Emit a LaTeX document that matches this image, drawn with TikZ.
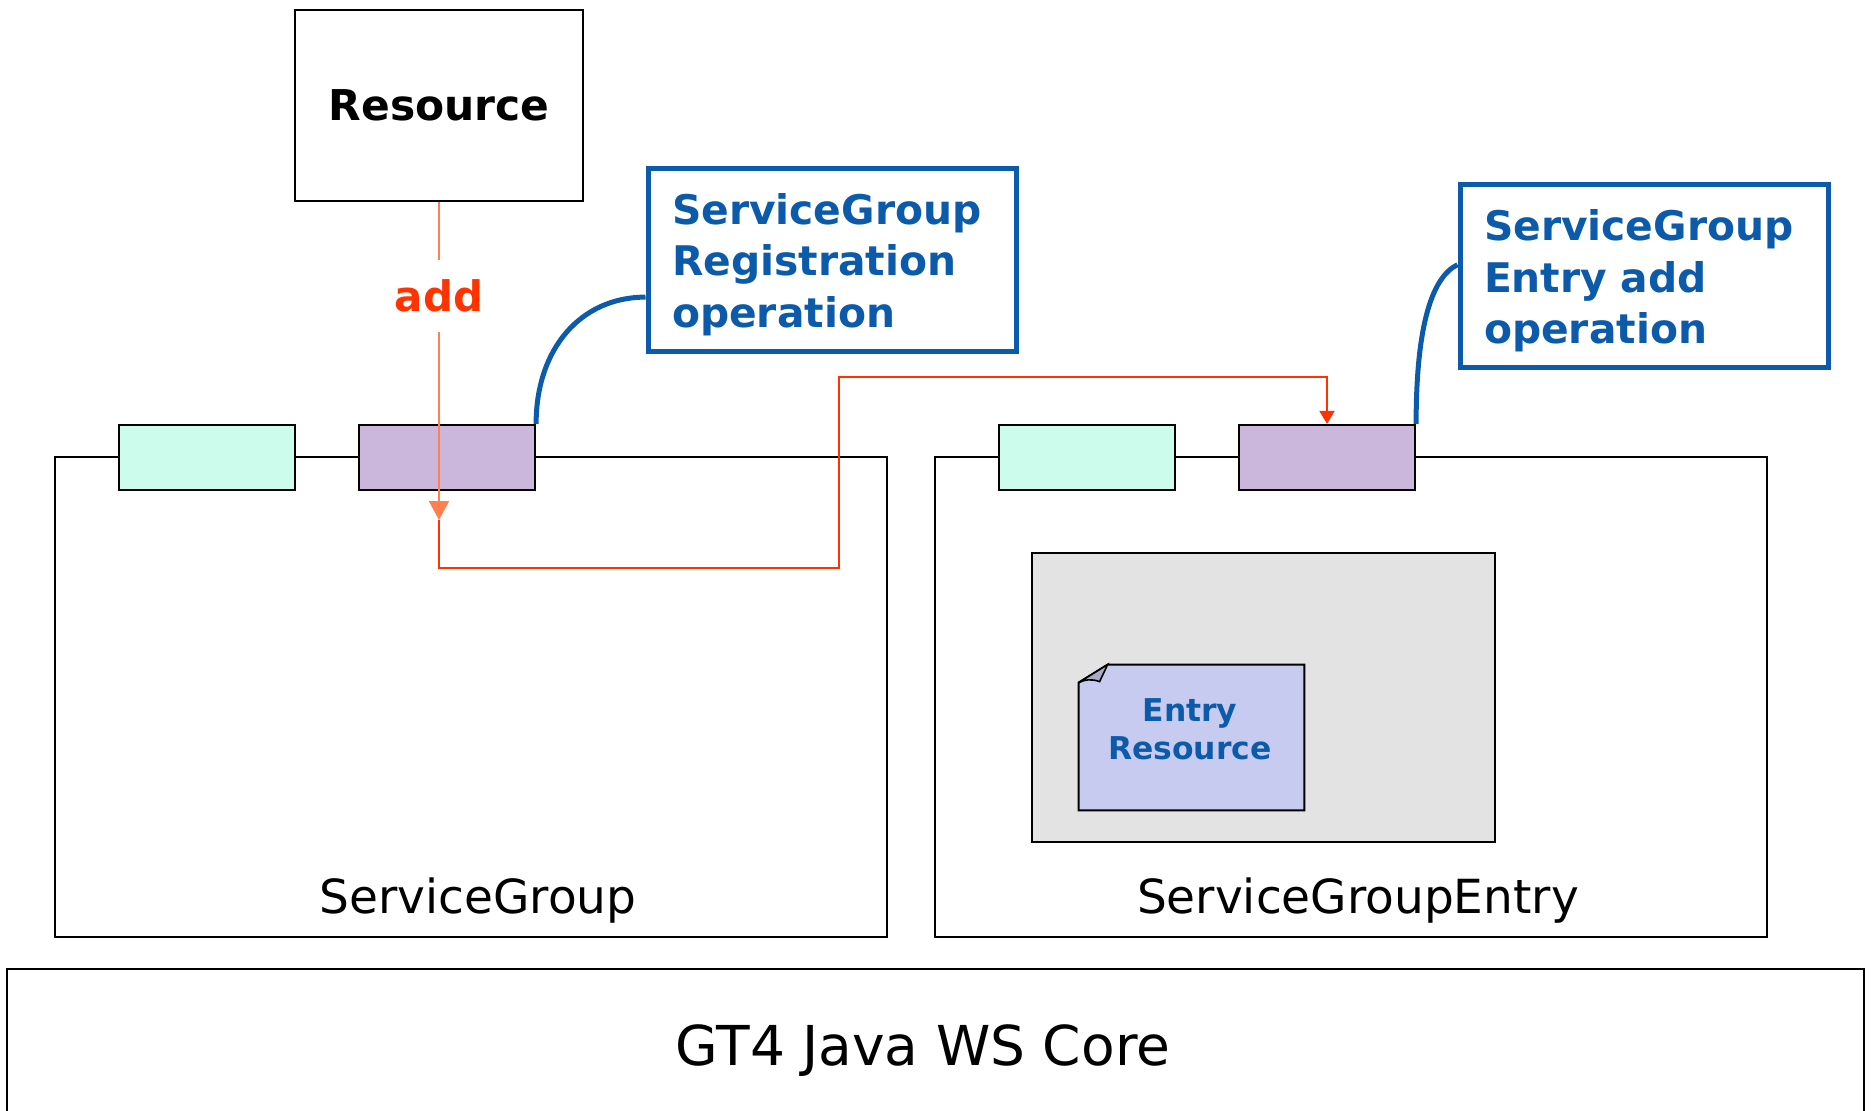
\documentclass[tikz,border=0pt]{standalone}
\usepackage{fontspec}
\setmainfont{DejaVu Sans}
\usepackage{xcolor}
\usetikzlibrary{positioning, arrows.meta, calc}
\definecolor{callblue}{HTML}{0B5BAA}
\definecolor{addred}{HTML}{FF3300}
\definecolor{addorange}{HTML}{FF7F4F}
\definecolor{portcyan}{HTML}{CCFCEC}
\definecolor{portpurple}{HTML}{CBB7DB}
\definecolor{holdgray}{HTML}{E3E3E3}
\definecolor{docblue}{HTML}{C8CBF0}
\definecolor{foldgray}{HTML}{A9A9C9}

\begin{document}
\begin{tikzpicture}[x=0.5pt, y=-0.5pt,
  box/.style={draw=black, line width=1.1pt, inner sep=0pt},
  port/.style={box, minimum width=88pt, minimum height=32.5pt},
  callout/.style={draw=callblue, line width=2.5pt, fill=white, text=callblue,
    minimum width=184pt, minimum height=91.5pt, text width=160pt, inner xsep=12pt,
    inner ysep=0pt, align=left, text height=20.5pt, font=\fontsize{20.4}{25.7}\selectfont\bfseries},
  calloutline/.style={draw=callblue, line width=2.5pt},
  bigtext/.style={font=\fontsize{23.5}{28}\selectfont}]
  \useasboundingbox (0,0) rectangle (1872,1110);

  % containers and the core
  \node[box, minimum width=416pt, minimum height=240pt] (sg) at (471,697) {};
  \node[box, minimum width=416pt, minimum height=240pt] (sge) at (1351,697) {};
  \node[box, minimum width=928.5pt, minimum height=80.5pt] (core) at (935.5,1049.5) {};
  \node[bigtext] (sglabel) at (478,901) {ServiceGroup};
  \node[bigtext] (sgelabel) at (1358,901) {ServiceGroupEntry};
  \node[font=\fontsize{27.5}{32}\selectfont] (corelabel) at (923,1051) {GT4 Java WS Core};

  % ports
  \node[port, fill=portcyan] (cl) at (207,457.5) {};
  \node[port, fill=portpurple] (pl) at (447,457.5) {};
  \node[port, fill=portcyan] (cr) at (1087,457.5) {};
  \node[port, fill=portpurple] (pr) at (1327,457.5) {};

  \node[box, minimum width=144pt, minimum height=95.5pt,
    font=\fontsize{21.2}{25}\selectfont\bfseries] (res) at (439,105.5) {Resource};

  % entry resource inside the gray holder
  \node[box, fill=holdgray, minimum width=231.5pt, minimum height=144.5pt] (hold) at (1263.5,697.5) {};
  \node[minimum width=112.5pt, minimum height=72.5pt, inner sep=0pt] (entry) at (1191.5,737.5) {};
  \filldraw[fill=docblue, line width=1pt] ($(entry.north west)+(0,18)$) -- ($(entry.north west)+(29,0)$)
    -- (entry.north east) -- (entry.south east) -- (entry.south west) -- cycle;
  \filldraw[fill=foldgray, line width=0.8pt] ($(entry.north west)+(0,18)$) -- ($(entry.north west)+(29,0)$)
    -- ($(entry.north west)+(21,17)$) .. controls ($(entry.north west)+(13,14)$) and ($(entry.north west)+(6,15)$) .. ($(entry.north west)+(0,18)$);
  \node[font=\fontsize{15.7}{19}\selectfont\bfseries, text=callblue, align=center] (entrytext) at (1190,729) {Entry\\Resource};

  % add call
  \coordinate (tip) at (439,520);
  \coordinate (jog) at (839,377);
  \draw[addorange, line width=1pt, -{Triangle[width=10pt,length=9.5pt]}] (res.south)
    -- node[pos=0.295, fill=white, inner xsep=2pt, inner ysep=10pt, text=addred,
      font=\fontsize{21}{25}\selectfont\bfseries] (addlabel) {add} (tip);
  \draw[addred, line width=1pt, -{Triangle[width=7.5pt,length=6.5pt]}] (tip)
    -- ++(0,48) -| (jog) -| (pr.north);

  % callouts
  \node[callout] (call1) at (832,259.5) {ServiceGroup\\Registration\\operation};
  \node[callout] (call2) at (1644,276) {ServiceGroup\\Entry add\\operation};
  \draw[calloutline] (pl.north east) .. controls +(0,-75) and +(-65,0) .. ($(call1.north west)!0.7!(call1.south west)$);
  \draw[calloutline] (pr.north east) .. controls +(0,-100) and +(-25,12) .. ($(call2.north west)!0.44!(call2.south west)$);
\end{tikzpicture}
\end{document}
